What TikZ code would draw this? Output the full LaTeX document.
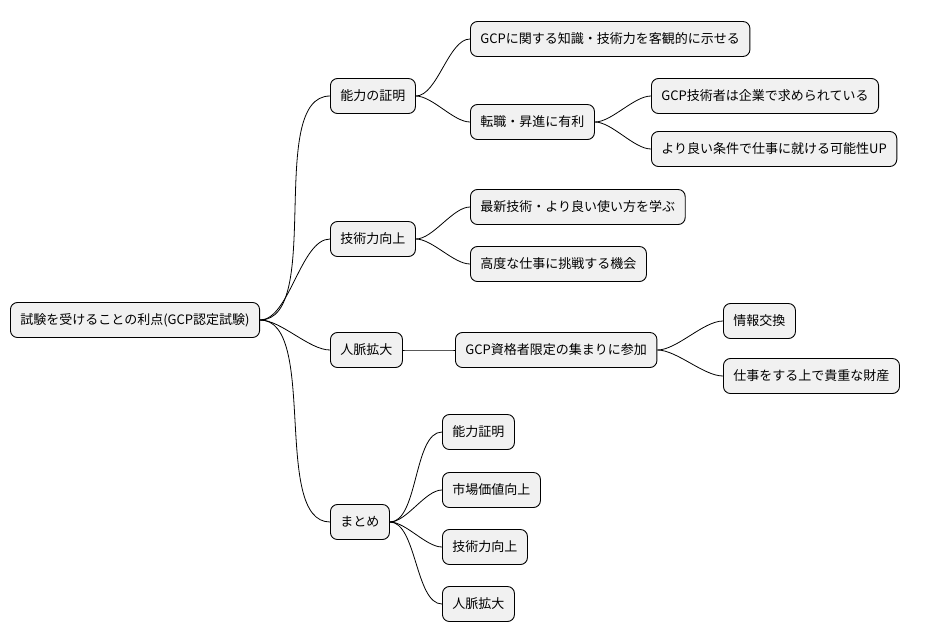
\documentclass[tikz,border=0pt]{standalone}
\usepackage{fontspec}
\setmainfont{Noto Sans CJK JP}
\begin{document}
\begin{tikzpicture}[x=1pt,y=-1pt,
  n/.style={draw=black,line width=0.9pt,fill={rgb,255:red,241;green,241;blue,241},rounded corners=7pt,minimum height=35pt,inner xsep=10pt,anchor=west,font=\fontsize{13}{15}\selectfont},
  e/.style={line width=0.8pt,out=0,in=180,looseness=0.7}]
\useasboundingbox (0,0) rectangle (925,640);
\node[n] (r) at (10,320) {試験を受けることの利点(GCP認定試験)};
\node[n] (a) at (330,96) {能力の証明};
\node[n] (b) at (330,239) {技術力向上};
\node[n] (c) at (330,350) {人脈拡大};
\node[n] (d) at (330,522) {まとめ};
\node[n] (a1) at (470,39) {GCPに関する知識・技術力を客観的に示せる};
\node[n] (a2) at (470,122) {転職・昇進に有利};
\node[n] (a21) at (651,96) {GCP技術者は企業で求められている};
\node[n] (a22) at (651,149) {より良い条件で仕事に就ける可能性UP};
\node[n] (b1) at (470,207) {最新技術・より良い使い方を学ぶ};
\node[n] (b2) at (470,264) {高度な仕事に挑戦する機会};
\node[n] (c1) at (455,350) {GCP資格者限定の集まりに参加};
\node[n] (c11) at (723,321) {情報交換};
\node[n] (c12) at (723,376) {仕事をする上で貴重な財産};
\node[n] (d1) at (442,432) {能力証明};
\node[n] (d2) at (442,490) {市場価値向上};
\node[n] (d3) at (442,547) {技術力向上};
\node[n] (d4) at (442,604) {人脈拡大};
\foreach \p/\c in {r/a,r/b,r/c,r/d,a/a1,a/a2,a2/a21,a2/a22,b/b1,b/b2,c/c1,c1/c11,c1/c12,d/d1,d/d2,d/d3,d/d4}
  \draw[e] (\p.east) to (\c.west);
\end{tikzpicture}
\end{document}
